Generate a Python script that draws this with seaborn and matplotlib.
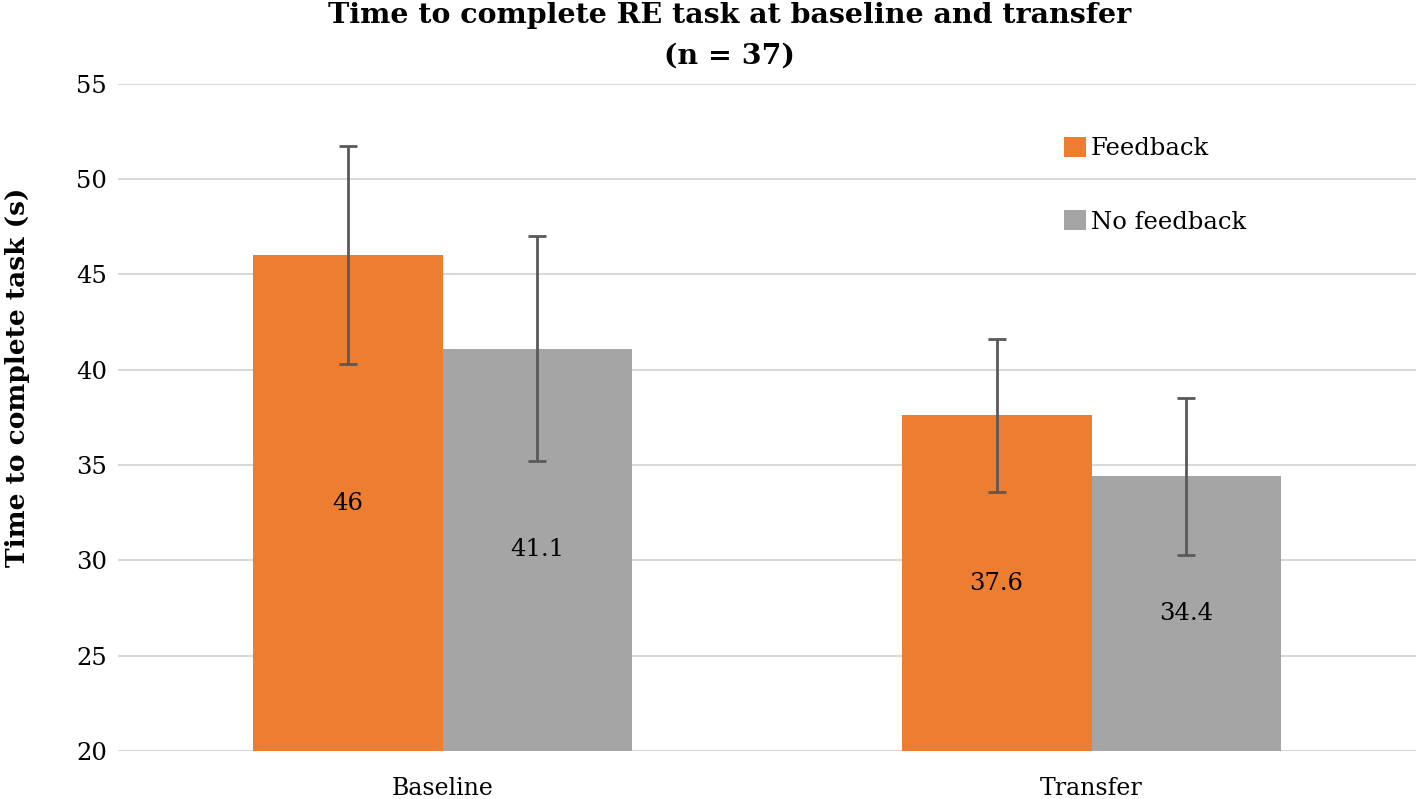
import matplotlib
matplotlib.use("Agg")
import matplotlib.pyplot as plt
import seaborn as sns
import pandas as pd

# ---- data ----
categories = ["Baseline", "Transfer"]
groups = ["Feedback", "No feedback"]
feedback_means = [46.0, 37.6]
nofeedback_means = [41.1, 34.4]
feedback_err = [5.7, 4.0]
nofeedback_err = [5.9, 4.1]
yticks = [20, 25, 30, 35, 40, 45, 50, 55]
title = "Time to complete RE task at baseline and transfer\n(n = 37)"
ylabel = "Time to complete task (s)"

df = pd.DataFrame({
    "phase": categories * 2,
    "group": [groups[0]] * 2 + [groups[1]] * 2,
    "time": feedback_means + nofeedback_means,
    "err": feedback_err + nofeedback_err,
})

sns.set_theme(style="white")
plt.rcParams["font.family"] = ["DejaVu Serif"]
plt.rcParams["text.color"] = "black"
plt.rcParams["xtick.color"] = "black"
plt.rcParams["ytick.color"] = "black"
plt.rcParams["axes.labelcolor"] = "black"

fig = plt.figure(figsize=(14.16, 7.99), dpi=100)
ax = fig.add_axes([118 / 1416, 48 / 799, 1 - 118 / 1416, (751 - 83.5) / 799])

palette = {"Feedback": "#ED7D31", "No feedback": "#A5A5A5"}
sns.barplot(data=df, x="phase", y="time", hue="group", order=categories,
            hue_order=groups, palette=palette, width=0.585, ax=ax,
            errorbar=None, saturation=1, legend=True, linewidth=0, zorder=2)

ax.set_ylim(20, 55)
ax.set_xlim(-0.5, 1.5)
ax.set_yticks(yticks)
ax.yaxis.grid(True, color="#D9D9D9", linewidth=1.5, zorder=0)
ax.set_axisbelow(True)
for s in ax.spines.values():
    s.set_visible(False)

# error bars and labels from containers
for cont, g in zip(ax.containers, groups):
    sub = df[df["group"] == g].set_index("phase").loc[categories]
    xs = [p.get_x() + p.get_width() / 2 for p in cont.patches]
    ax.errorbar(xs, sub["time"].values, yerr=sub["err"].values, fmt="none",
                ecolor="#595959", elinewidth=2, capsize=6.5, capthick=2, zorder=3)
    ax.bar_label(cont, labels=[f"{v:g}" for v in sub["time"].values],
                 label_type="center", fontsize=17.5, color="black", zorder=4)

ax.tick_params(axis="y", labelsize=17.5, pad=8, length=0)
ax.tick_params(axis="x", labelsize=17, pad=19, length=0)
ax.set_xlabel("")
ax.set_ylabel(ylabel, fontsize=19, fontweight="bold")
ax.yaxis.set_label_coords(-0.068, 0.56)

leg = ax.legend(loc="upper left", bbox_to_anchor=(0.712, 0.953), frameon=False,
                fontsize=17.5, handlelength=0.9, handleheight=0.9,
                handletextpad=0.2, labelspacing=2.05)

fig.text(0.5155, 0.998, title, ha="center", va="top", fontsize=20.5,
         fontweight="bold", linespacing=1.65)

fig.savefig("out.png", dpi=100)
